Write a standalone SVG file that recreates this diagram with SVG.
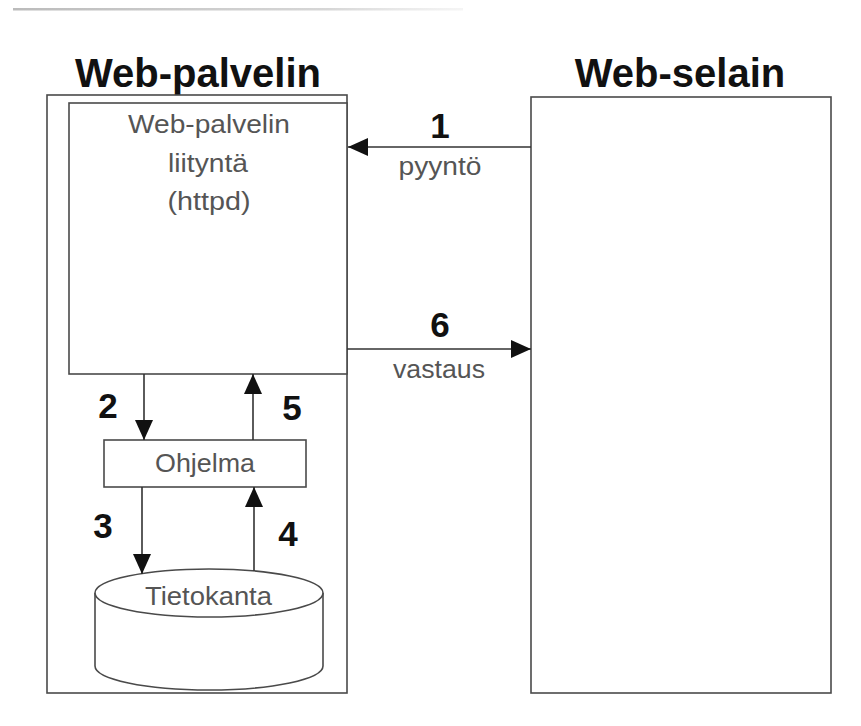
<svg xmlns="http://www.w3.org/2000/svg" width="861" height="726" viewBox="0 0 861 726">
  <style>
    .box { fill: #ffffff; stroke: #4a4a4a; stroke-width: 1.6; }
    .title { font-family: "Liberation Sans", Arial, sans-serif; font-weight: bold; font-size: 40px; fill: #111; text-anchor: middle; }
    .lbl { font-family: "Liberation Sans", Arial, sans-serif; font-size: 26px; fill: #555; text-anchor: middle; }
    .num { font-family: "Liberation Sans", Arial, sans-serif; font-weight: bold; font-size: 35px; fill: #111; text-anchor: middle; }
    .conn { stroke: #333; stroke-width: 1.6; fill: none; }
  </style>
  <defs>
    <marker id="ah" markerUnits="userSpaceOnUse" markerWidth="20" markerHeight="18" refX="20" refY="9" orient="auto">
      <path d="M0,0 L20,9 L0,18 z" fill="#111"/>
    </marker>
    <linearGradient id="scan" x1="0" y1="0" x2="1" y2="0">
      <stop offset="0" stop-color="#aaa" stop-opacity="0.8"/>
      <stop offset="0.7" stop-color="#bbb" stop-opacity="0.6"/>
      <stop offset="1" stop-color="#ccc" stop-opacity="0.2"/>
    </linearGradient>
  </defs>
  <rect width="861" height="726" fill="#ffffff"/>
  <rect x="13" y="8" width="450" height="2.5" fill="url(#scan)"/>

  <g id="web-palvelin">
    <text class="title" x="198" y="87">Web-palvelin</text>
    <rect class="box" x="47" y="95" width="300" height="598"/>
  </g>
  <g id="httpd">
    <rect class="box" x="69" y="103" width="278" height="271"/>
    <text class="lbl" x="209" y="133" textLength="162" lengthAdjust="spacingAndGlyphs">Web-palvelin</text>
    <text class="lbl" x="208" y="172" textLength="80" lengthAdjust="spacingAndGlyphs">liityntä</text>
    <text class="lbl" x="209" y="210" textLength="83" lengthAdjust="spacingAndGlyphs">(httpd)</text>
  </g>
  <g id="ohjelma">
    <rect class="box" x="104" y="440" width="202" height="47"/>
    <text class="lbl" x="205" y="472" textLength="100" lengthAdjust="spacingAndGlyphs">Ohjelma</text>
  </g>
  <g id="tietokanta">
    <path class="box" d="M95,593 L95,666 A114,24 0 0 0 323,666 L323,593"/>
    <ellipse class="box" cx="209" cy="593" rx="114" ry="24"/>
    <text class="lbl" x="208.5" y="605" textLength="127" lengthAdjust="spacingAndGlyphs">Tietokanta</text>
  </g>
  <g id="web-selain">
    <text class="title" x="680" y="87">Web-selain</text>
    <rect class="box" x="531" y="97" width="300" height="596"/>
  </g>

  <g id="connectors">
    <line class="conn" x1="531" y1="147" x2="348" y2="147" marker-end="url(#ah)"/>
    <text class="num" x="440" y="138">1</text>
    <text class="lbl" x="440" y="175" textLength="83" lengthAdjust="spacingAndGlyphs">pyyntö</text>

    <line class="conn" x1="347" y1="349" x2="531" y2="349" marker-end="url(#ah)"/>
    <text class="num" x="440" y="337">6</text>
    <text class="lbl" x="439" y="378" textLength="92" lengthAdjust="spacingAndGlyphs">vastaus</text>

    <line class="conn" x1="144" y1="374" x2="144" y2="440" marker-end="url(#ah)"/>
    <text class="num" x="108" y="418">2</text>

    <line class="conn" x1="253" y1="440" x2="253" y2="374" marker-end="url(#ah)"/>
    <text class="num" x="292" y="420">5</text>

    <line class="conn" x1="142" y1="487" x2="142" y2="574" marker-end="url(#ah)"/>
    <text class="num" x="103" y="538">3</text>

    <line class="conn" x1="254" y1="571" x2="254" y2="487" marker-end="url(#ah)"/>
    <text class="num" x="288" y="546">4</text>
  </g>
</svg>
